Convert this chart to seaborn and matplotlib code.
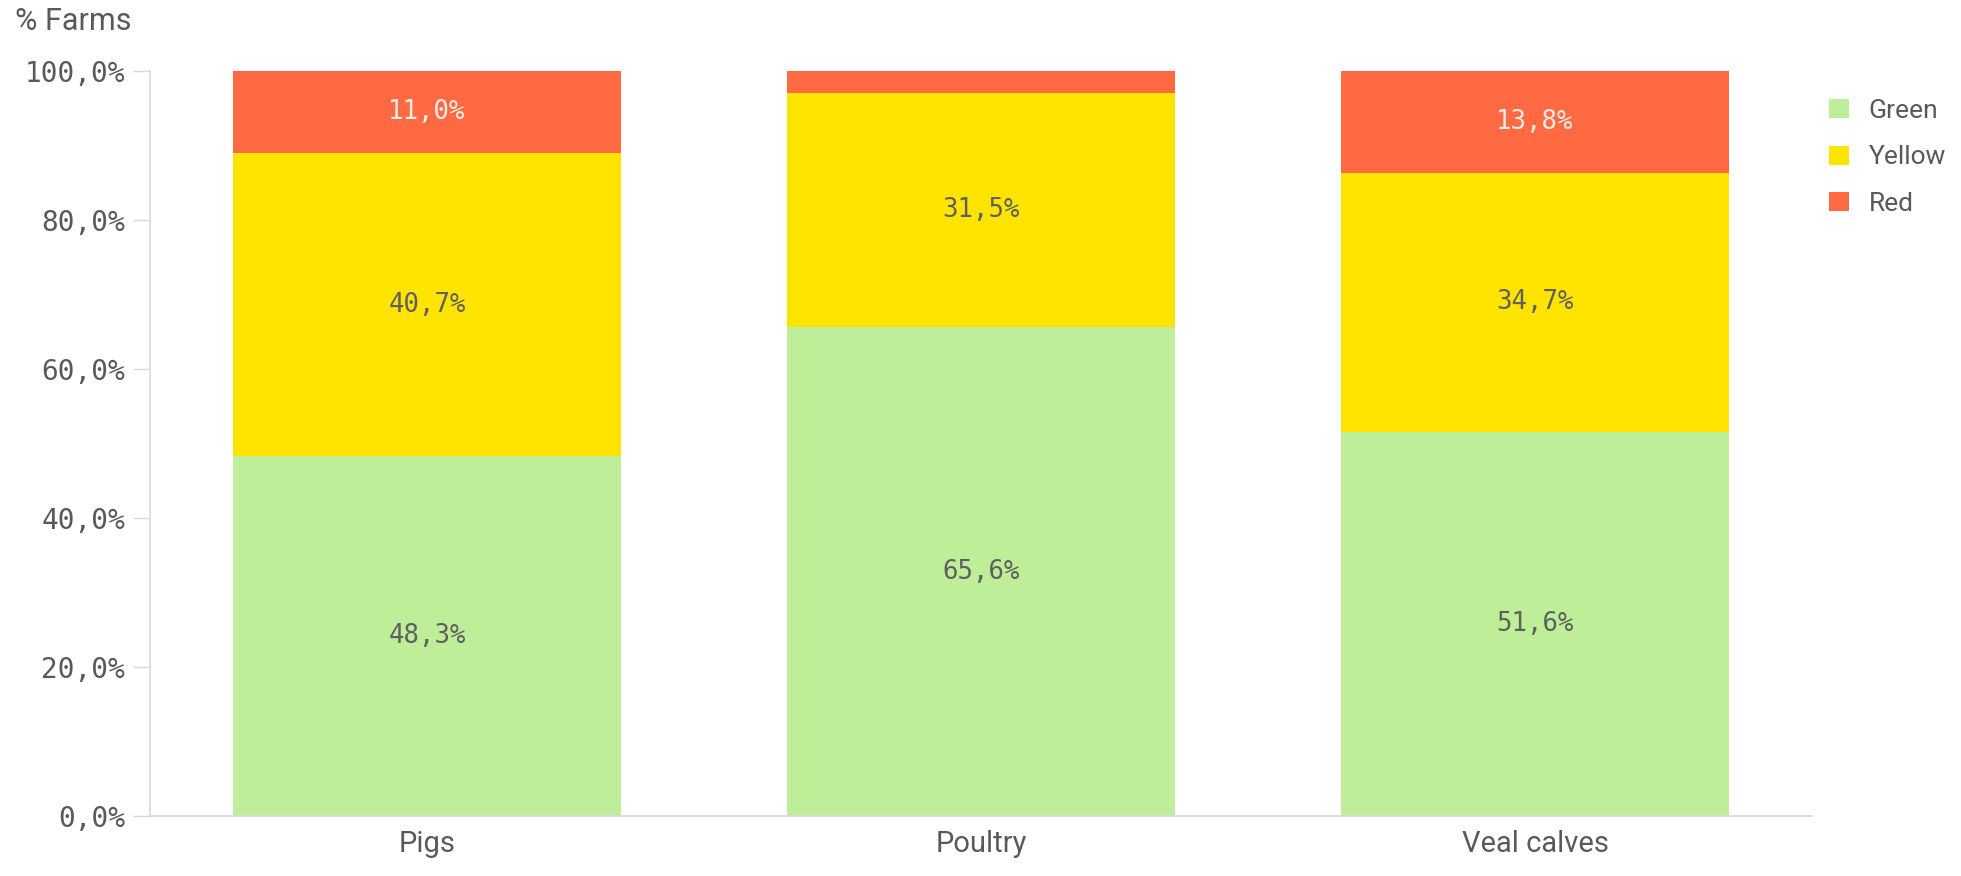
import matplotlib
matplotlib.use("Agg")
import matplotlib.pyplot as plt
import seaborn as sns
import numpy as np
from matplotlib.patches import Patch

# Data
categories = ["Pigs", "Poultry", "Veal calves"]
green = [48.3, 65.6, 51.6]
yellow = [40.7, 31.5, 34.7]
red = [11.0, 2.9, 13.8]
series_names = ["Green", "Yellow", "Red"]
y_ticks = [0, 20, 40, 60, 80, 100]

colors = {"Green": "#bfee98", "Yellow": "#ffe400", "Red": "#ff6a43"}
label_colors = {"Green": "#5f5f5f", "Yellow": "#5f5f5f", "Red": "#f3ede9"}
grey_text = "#595959"
axis_grey = "#d9d9d9"

sns.set_theme(style="white")
plt.rcParams["font.family"] = ["Roboto", "DejaVu Sans"]
num_font = "DejaVu Sans Mono"

fig = plt.figure(figsize=(19.61, 8.76), dpi=100)
ax = fig.add_axes([150 / 1961, 1 - 816 / 876, (1812 - 150) / 1961, (816 - 71) / 876])

series = {"Green": green, "Yellow": yellow, "Red": red}
bottom = np.zeros(len(categories))
for name in series_names:
    vals = np.array(series[name])
    sns.barplot(x=categories, y=vals, bottom=bottom, color=colors[name],
                width=0.7, linewidth=0, saturation=1, ax=ax)
    for i, v in enumerate(vals):
        if v >= 5:
            ax.text(i, bottom[i] + v / 2, f"{v:.1f}%".replace(".", ","),
                    ha="center", va="center", fontsize=18.5,
                    family=num_font, color=label_colors[name])
    bottom = bottom + vals

ax.set_xlim(-0.5, 2.5)
ax.set_ylim(0, 100)
ax.set_yticks(y_ticks)
ax.set_yticklabels([f"{t:.1f}%".replace(".", ",") for t in y_ticks],
                   family=num_font, fontsize=20, color=grey_text)
ax.tick_params(axis="y", length=12, width=1, color=axis_grey, pad=6, left=True)
ax.tick_params(axis="x", length=0, pad=10, labelsize=21, labelcolor=grey_text)
ax.set_xlabel("")
ax.set_ylabel("")
for s in ["top", "right"]:
    ax.spines[s].set_visible(False)
for s in ["left", "bottom"]:
    ax.spines[s].set_color(axis_grey)
    ax.spines[s].set_linewidth(1.2)
ax.grid(False)

fig.text(15 / 1961, 1 - 22 / 876, "% Farms", ha="left", va="center",
         fontsize=22, color=grey_text)

handles = [Patch(facecolor=colors[n], edgecolor="none", label=n) for n in series_names]
fig.legend(handles=handles, loc="upper left", bbox_to_anchor=(1829 / 1961, 1 - 99 / 876),
           frameon=False, fontsize=19, labelcolor=grey_text, handlelength=0.75,
           handleheight=0.75, handletextpad=0.75, labelspacing=0.85, borderaxespad=0,
           borderpad=0)

plt.savefig("out.png", dpi=100)
